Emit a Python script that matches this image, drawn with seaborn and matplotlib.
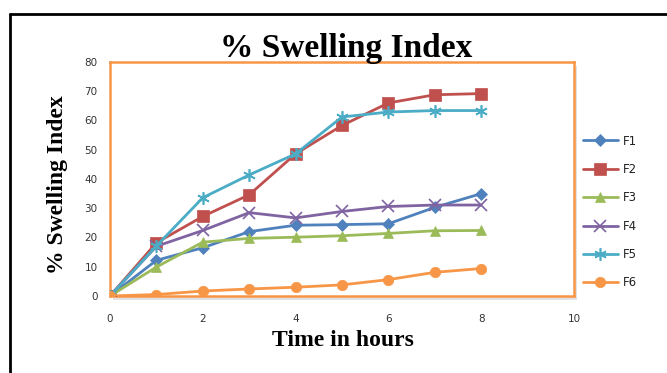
import matplotlib
matplotlib.use("Agg")
import matplotlib.pyplot as plt
import seaborn as sns
import pandas as pd
from matplotlib.lines import Line2D
from matplotlib.patches import Rectangle

hours = [0, 1, 2, 3, 4, 5, 6, 7, 8]
F1 = [0, 12.2, 16.5, 22.0, 24.2, 24.4, 24.7, 30.3, 35.0]
F2 = [0, 18.2, 27.2, 34.6, 48.6, 58.3, 66.0, 68.8, 69.2]
F3 = [0, 9.9, 18.4, 19.7, 20.1, 20.6, 21.4, 22.3, 22.4]
F4 = [0, 17.0, 22.4, 28.5, 26.7, 28.9, 30.6, 31.1, 31.1]
F5 = [0, 17.1, 33.6, 41.4, 48.6, 61.2, 62.9, 63.4, 63.4]
F6 = [0, 0.5, 1.7, 2.4, 3.0, 3.8, 5.6, 8.1, 9.4]
series_names = ["F1", "F2", "F3", "F4", "F5", "F6"]
xticks = [0, 2, 4, 6, 8, 10]
yticks = [0, 10, 20, 30, 40, 50, 60, 70, 80]

colors = {"F1": "#4F81BD", "F2": "#C0504D", "F3": "#9BBB59",
          "F4": "#8064A2", "F5": "#4BACC6", "F6": "#F79646"}
markers = {"F1": "D", "F2": "s", "F3": "^", "F4": "x", "F5": (6, 2, 0), "F6": "o"}
msizes = {"F1": 6, "F2": 8, "F3": 7.5, "F4": 8, "F5": 9, "F6": 7.5}

rows = []
for name, vals in zip(series_names, [F1, F2, F3, F4, F5, F6]):
    for h, v in zip(hours, vals):
        rows.append({"Time": h, "Swelling": v, "Formulation": name})
df = pd.DataFrame(rows)

sns.set_style("white")
fig = plt.figure(figsize=(6.67, 3.73), dpi=100)
ax = fig.add_axes([110/667, 1-296/373, (574-110)/667, (296-62)/373])

for name in series_names:
    sub = df[df["Formulation"] == name]
    sns.lineplot(data=sub, x="Time", y="Swelling", ax=ax, color=colors[name],
                 linewidth=2.0, marker=markers[name], markersize=msizes[name],
                 markeredgecolor=colors[name], markeredgewidth=1.2 if name in ("F4", "F5") else 0.5,
                 legend=False, zorder=3)

ax.set_xlim(0, 10)
ax.set_ylim(0, 80)
ax.set_xticks(xticks)
ax.set_yticks(yticks)
ax.tick_params(axis="both", length=0, labelsize=7.5, colors="#333333")
ax.tick_params(axis="x", pad=13)
ax.tick_params(axis="y", pad=9)
for s in ax.spines.values():
    s.set_color("#F79646")
    s.set_linewidth(1.8)
    s.set_visible(True)
ax.set_xlabel("")
ax.set_ylabel("")

# shadow behind plot frame
fig.patches.append(Rectangle((113/667, 1-300/373), (574-110)/667, (296-62)/373,
                             transform=fig.transFigure, facecolor="#D0D0D0",
                             edgecolor="none", zorder=-5, alpha=0.6))

serif = ["Liberation Serif", "DejaVu Serif"]
fig.text(346/667, 1-57/373, "% Swelling Index", ha="center", va="baseline",
         fontsize=24, fontweight="bold", family=serif, color="black")
fig.text(343/667, 1-346/373, "Time in hours", ha="center", va="baseline",
         fontsize=17, fontweight="bold", family=serif, color="black")
fig.text(57/667, 1-185/373, "% Swelling Index", ha="center", va="center",
         rotation=90, fontsize=17, fontweight="bold", family=serif, color="black")

handles = [Line2D([0], [0], color=colors[n], linewidth=2.0, marker=markers[n],
                  markersize=msizes[n], markeredgecolor=colors[n],
                  markeredgewidth=1.2 if n in ("F4", "F5") else 0.5) for n in series_names]
leg = fig.legend(handles, series_names, loc="upper left",
                 bbox_to_anchor=(572/667, 1-124/373), frameon=False,
                 fontsize=8.5, handlelength=3.0, labelspacing=1.3, handletextpad=0.4)
for t in leg.get_texts():
    t.set_color("#222222")

# outer black frame (left and top)
fig.add_artist(Line2D([10/667, 10/667], [0, 1-14/373], transform=fig.transFigure,
                      color="black", linewidth=2))
fig.add_artist(Line2D([10/667, 1], [1-14/373, 1-14/373], transform=fig.transFigure,
                      color="black", linewidth=2))

fig.savefig("out.png", dpi=100)
